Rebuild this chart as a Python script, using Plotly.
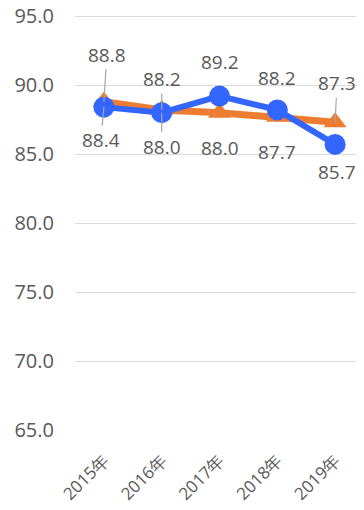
import plotly.graph_objects as go

years = ["2015年", "2016年", "2017年", "2018年", "2019年"]
series_blue = [88.4, 88.0, 89.2, 88.2, 85.7]
series_orange = [88.8, 88.2, 88.0, 87.7, 87.3]
y_ticks = [65, 70, 75, 80, 85, 90, 95]

BLUE = "#3366FF"
ORANGE = "#ED7D31"
TXT = "#595959"
FONT = "Open Sans, DejaVu Sans, sans-serif"

fig = go.Figure()
fig.add_trace(go.Scatter(
    x=years, y=series_orange, mode="lines+markers",
    line=dict(color=ORANGE, width=7),
    marker=dict(symbol="triangle-up", size=20, color=ORANGE),
    showlegend=False, hoverinfo="skip"))
fig.add_trace(go.Scatter(
    x=years, y=series_blue, mode="lines+markers",
    line=dict(color=BLUE, width=6),
    marker=dict(symbol="circle", size=21, color=BLUE),
    showlegend=False, hoverinfo="skip"))

# label offsets (ax, ay, leader)
blue_off = [(-3, 33, True), (0, 34, True), (0, -34, False), (0, -32, False), (2, 28, False)]
orange_off = [(3, -47, True), (0, -31, True), (0, 35, False), (0, 35, False), (2, -39, True)]

for vals, offs in ((series_blue, blue_off), (series_orange, orange_off)):
    for x, v, (ax, ay, lead) in zip(years, vals, offs):
        if lead:
            fig.add_annotation(x=x, y=v, text=f"{v:.1f}", showarrow=True,
                               arrowhead=0, arrowwidth=1.2, arrowcolor="#A6A6A6",
                               ax=ax, ay=ay, standoff=0,
                               font=dict(size=19, color=TXT, family=FONT))
        else:
            fig.add_annotation(x=x, y=v, text=f"{v:.1f}", showarrow=False,
                               xshift=ax, yshift=-ay,
                               font=dict(size=19, color=TXT, family=FONT))

# page body has an 8px margin, so the figure is shifted accordingly
fig.update_layout(
    width=356, height=502,
    margin=dict(l=67, r=0, t=6, b=80, autoexpand=False),
    paper_bgcolor="white", plot_bgcolor="white",
    font=dict(family=FONT, color=TXT),
)
fig.update_yaxes(range=[65, 95.15], tickvals=y_ticks, tickformat=".1f",
                 showgrid=True, gridcolor="#D9D9D9", gridwidth=1,
                 zeroline=False, showline=False, ticks="",
                 tickfont=dict(size=20, color=TXT, family=FONT),
                 ticklabelstandoff=20, ticklabeloverflow="allow",
                 automargin=False)
fig.update_xaxes(type="category", tickangle=-45, showgrid=False,
                 showline=False, zeroline=False, ticks="",
                 tickfont=dict(size=17, color=TXT, family=FONT),
                 ticklabelstandoff=16, automargin=False,
                 range=[-0.5, 4.5])

fig.write_html("out.html")
